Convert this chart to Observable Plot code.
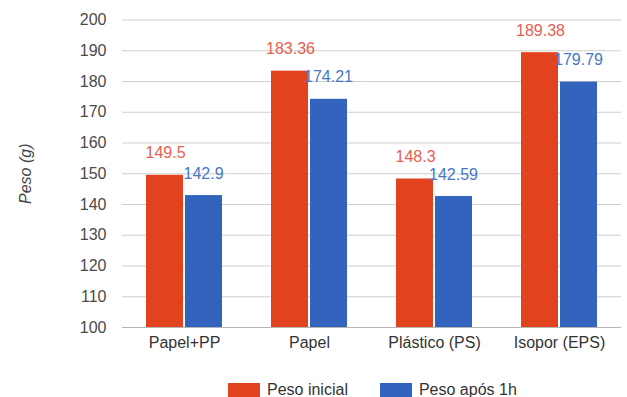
<!DOCTYPE html>
<html>
<head>
<meta charset="utf-8">
<script src="https://cdn.jsdelivr.net/npm/d3@7"></script>
<script src="https://cdn.jsdelivr.net/npm/@observablehq/plot@0.6"></script>
<style>
  html, body { margin: 0; padding: 0; background: #fff; }
  #wrap { position: relative; width: 627px; height: 397px; font-family: "Liberation Sans", Arial, sans-serif; }
  #legend { position: absolute; left: 228px; top: 381px; display: flex; align-items: center; font-size: 16px; color: #333; }
  .sw { width: 32px; height: 14px; display: inline-block; margin-right: 7px; }
  .item { display: flex; align-items: center; margin-right: 32px; }
</style>
</head>
<body>
<div id="wrap"></div>
<script>
const categories = ["Papel+PP", "Papel", "Plástico (PS)", "Isopor (EPS)"];
const series = ["Peso inicial", "Peso após 1h"];
const pesoInicial = [149.5, 183.36, 148.3, 189.38];
const pesoApos1h = [142.9, 174.21, 142.59, 179.79];
const yTicks = [100, 110, 120, 130, 140, 150, 160, 170, 180, 190, 200];
const yDomain = [100, 200];
const colors = ["#e2431f", "#3264bd"];
const labelColors = ["#e5604f", "#4677c8"];

const rowsInicial = categories.map((c, i) => ({categoria: c, peso: pesoInicial[i]}));
const rowsApos = categories.map((c, i) => ({categoria: c, peso: pesoApos1h[i]}));

const half = 38; // half of the category band, in px

const chart = Plot.plot({
  width: 627,
  height: 370,
  marginLeft: 122,
  marginRight: 6,
  marginTop: 19.5,
  marginBottom: 43,
  style: {fontFamily: "'Liberation Sans', Arial, sans-serif", fontSize: "16px", background: "#fff"},
  x: {domain: categories, paddingInner: 0.39, paddingOuter: 0.19, label: null},
  y: {domain: yDomain, label: null},
  marks: [
    Plot.gridY(yTicks, {stroke: "#cfcfcf", strokeOpacity: 1}),
    Plot.ruleY([yDomain[0]], {stroke: "#b5b5b5"}),
    Plot.barY(rowsInicial, {x: "categoria", y1: yDomain[0], y2: "peso", fill: colors[0], insetRight: half + 1}),
    Plot.barY(rowsApos, {x: "categoria", y1: yDomain[0], y2: "peso", fill: colors[1], insetLeft: half + 1}),
    Plot.text(rowsInicial, {x: "categoria", y: "peso", text: d => String(d.peso), dx: -19, dy: -22, fill: labelColors[0], fontSize: 16}),
    Plot.text(rowsApos, {x: "categoria", y: "peso", text: d => String(d.peso), dx: 19, dy: -22, fill: labelColors[1], fontSize: 16}),
    Plot.axisY(yTicks, {tickSize: 0, tickPadding: 16, label: null, fill: "#4a4a4a", fontSize: 16}),
    Plot.axisX({tickSize: 0, tickPadding: 9, label: null, fill: "#333", fontSize: 16}),
    Plot.text(["Peso (g)"], {frameAnchor: "left", textAnchor: "middle", dx: -97, rotate: -90, text: d => d, fontStyle: "italic", fill: "#444", fontSize: 16})
  ]
});

const wrap = document.getElementById("wrap");
wrap.appendChild(chart);

const legend = document.createElement("div");
legend.id = "legend";
series.forEach((s, i) => {
  const item = document.createElement("span");
  item.className = "item";
  const sw = document.createElement("span");
  sw.className = "sw";
  sw.style.background = colors[i];
  item.appendChild(sw);
  item.appendChild(document.createTextNode(s));
  legend.appendChild(item);
});
wrap.appendChild(legend);
</script>
</body>
</html>
